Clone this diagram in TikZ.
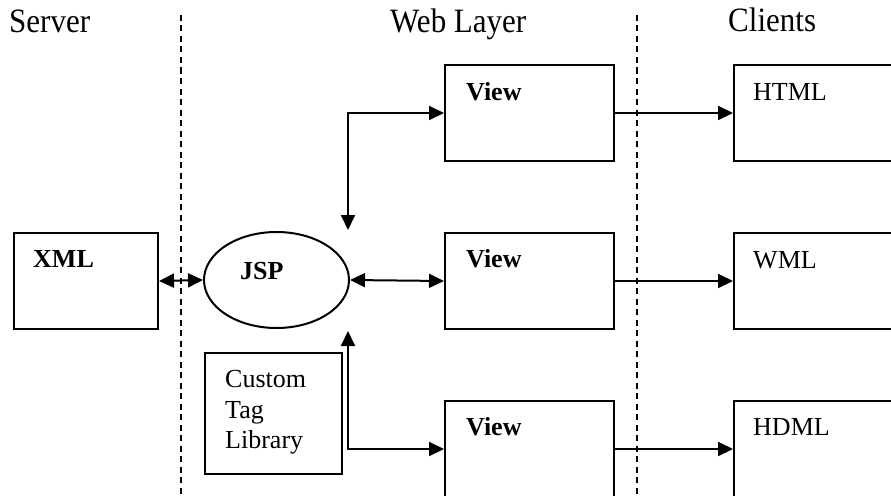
\documentclass[tikz,border=0pt]{standalone}
\usepackage{fontspec}
\usepackage{graphicx}
\setmainfont{Liberation Serif}
\usetikzlibrary{arrows.meta,shapes.geometric}
\newcommand{\tallhead}[1]{\scalebox{1}[1.1]{#1}}
\begin{document}
\begin{tikzpicture}[x=1pt,y=-1pt,
  box/.style={draw,line width=2pt,minimum width=#1,minimum height=96pt,inner sep=0pt,anchor=north west},
  box/.default=169pt,
  lbl/.style={anchor=base west,inner sep=0pt,font=\fontsize{26}{30}\selectfont},
  blbl/.style={lbl,font=\fontsize{26}{30}\selectfont\bfseries},
  head/.style={anchor=base west,inner sep=0pt,font=\fontsize{31}{36}\selectfont},
  divider/.style={line width=1.6pt,dash pattern=on 6pt off 4.5pt},
  link/.style={line width=2pt,-{Triangle[length=15pt,width=14pt]}},
  dlink/.style={line width=2pt,{Triangle[length=15pt,width=14pt]}-{Triangle[length=15pt,width=14pt]}}]
\useasboundingbox (0,0) rectangle (891,495);
\clip (0,0) rectangle (891,495);

% column headings
\node[head] (hserver) at (9,33) {\tallhead{Server}};
\node[head] (hweb) at (390,33) {\tallhead{Web Layer}};
\node[head] (hclients) at (728,32) {\tallhead{Clients}};

% layer dividers
\coordinate (d1t) at (181,15);
\coordinate (d1b) at (181,497);
\coordinate (d2t) at (637,15);
\coordinate (d2b) at (637,497);
\draw[divider] (d1t) -- (d1b);
\draw[divider] (d2t) -- (d2b);

% server side
\node[box=144pt] (xml) at (13,232) {};
\node[blbl] (xmlt) at (33,267) {XML};

% JSP page
\node[ellipse,draw,line width=2pt,minimum width=145pt,minimum height=96pt,inner sep=0pt] (jsp) at (276.5,280) {};
\node[blbl] (jspt) at (240,279) {JSP};

% tag library
\node[draw,line width=2pt,minimum width=137pt,minimum height=121pt,inner sep=0pt,anchor=north west] (lib) at (204,352) {};
\node[lbl] (lib1) at (225,387) {Custom};
\node[lbl] (lib2) at (225,418) {Tag};
\node[lbl] (lib3) at (225,448) {Library};

% views
\node[box] (v1) at (444,64) {};
\node[blbl] (v1t) at (466,100) {View};
\node[box] (v2) at (444,232) {};
\node[blbl] (v2t) at (466,267) {View};
\node[box] (v3) at (444,400) {};
\node[blbl] (v3t) at (466,435) {View};

% clients
\node[box=175pt] (c1) at (733,64) {};
\node[lbl] (c1t) at (753,100) {HTML};
\node[box=175pt] (c2) at (733,232) {};
\node[lbl] (c2t) at (753,268) {WML};
\node[box=175pt] (c3) at (733,400) {};
\node[lbl] (c3t) at (753,435) {HDML};

% connectors
\coordinate (up) at (348,230);
\coordinate (dn) at (348,331);
\draw[dlink] (xml.east) -- (jsp.west);
\draw[dlink] (jsp.east) -- (v2.west);
\draw[dlink] (up) |- (v1.west);
\draw[dlink] (dn) |- (v3.west);
\draw[link] (v1.east) -- (c1.west);
\draw[link] (v2.east) -- (c2.west);
\draw[link] (v3.east) -- (c3.west);
\end{tikzpicture}
\end{document}
